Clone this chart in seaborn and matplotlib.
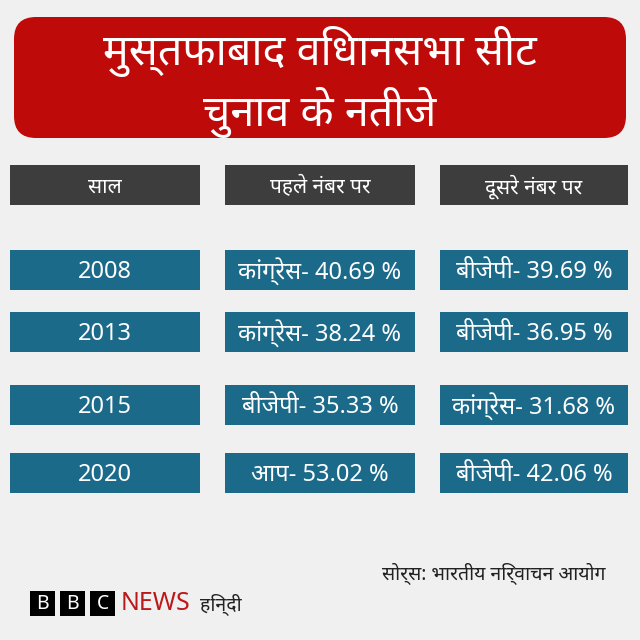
import matplotlib.pyplot as plt
from matplotlib.patches import FancyBboxPatch, Rectangle
import seaborn as sns

sns.set_theme(style="white")
plt.rcParams['font.family'] = ['Noto Sans', 'DejaVu Sans']

title = "मुस्तफाबाद विधानसभा सीट\nचुनाव के नतीजे"
headers = ["साल", "पहले नंबर पर", "दूसरे नंबर पर"]
years = ["2008", "2013", "2015", "2020"]
first = ["कांग्रेस- 40.69 %", "कांग्रेस- 38.24 %", "बीजेपी- 35.33 %", "आप- 53.02 %"]
second = ["बीजेपी- 39.69 %", "बीजेपी- 36.95 %", "कांग्रेस- 31.68 %", "बीजेपी- 42.06 %"]
source = "सोर्स: भारतीय निर्वाचन आयोग"

col_x = [(10, 200), (225, 415), (440, 628)]
row_y = [250, 312, 385, 453]

fig = plt.figure(figsize=(6.4, 6.4), dpi=100)
fig.patch.set_facecolor('#f0f0f0')
ax = fig.add_axes([0, 0, 1, 1])
ax.set_xlim(0, 640)
ax.set_ylim(640, 0)
ax.axis('off')

ax.add_patch(FancyBboxPatch((14, 17), 612, 121, boxstyle="round,pad=0,rounding_size=22",
                            fc='#bf0a0a', ec='none'))
ax.text(320, 82, title, color='white', fontsize=31, fontweight='bold',
        ha='center', va='center', linespacing=1.25)

for (x0, x1), h in zip(col_x, headers):
    ax.add_patch(Rectangle((x0, 165), x1 - x0, 40, fc='#3d3d3d', ec='none'))
    ax.text((x0 + x1) / 2, 187, h, color='white', fontsize=15, ha='center', va='center')

for y, yr, f, s in zip(row_y, years, first, second):
    for (x0, x1), t in zip(col_x, [yr, f, s]):
        ax.add_patch(Rectangle((x0, y), x1 - x0, 40, fc='#1b6a8a', ec='none'))
        ax.text((x0 + x1) / 2, y + 22, t, color='white', fontsize=17, ha='center', va='center')

ax.text(606, 573, source, color='#222222', fontsize=14, ha='right', va='center')

for i, ch in enumerate("BBC"):
    bx = 30 + i * 30
    ax.add_patch(Rectangle((bx, 591), 25, 25, fc='black', ec='none'))
    ax.text(bx + 12.5, 604, ch, color='white', fontsize=14, fontweight='bold',
            ha='center', va='center')
ax.text(121, 603, "NEWS", color='#bb1919', fontsize=18, fontweight='bold', va='center')
ax.text(200, 604, "हिन्दी", color='#222222', fontsize=14, va='center')

fig.savefig('out.png', dpi=100, facecolor=fig.get_facecolor())
